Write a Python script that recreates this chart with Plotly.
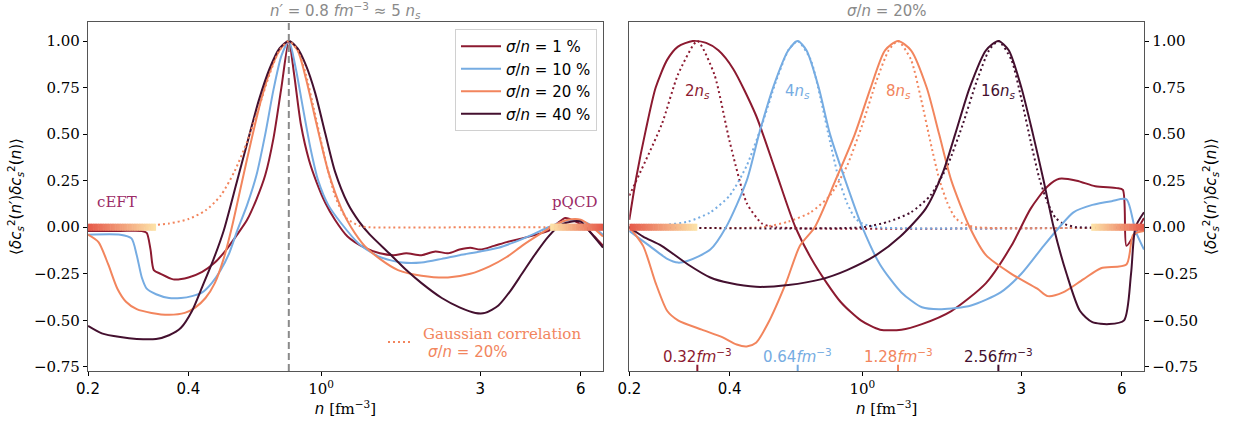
import numpy as np
import plotly.graph_objects as go

W, H = 1233, 421

# ---------------- data ----------------
labels = ["<i>σ</i>/<i>n</i> = 1 %", "<i>σ</i>/<i>n</i> = 10 %",
          "<i>σ</i>/<i>n</i> = 20 %", "<i>σ</i>/<i>n</i> = 40 %"]
colors = ["#8c1a30", "#76ace2", "#f2855d", "#44102f"]

# Left panel: n' = 0.8 fm^-3, several sigma/n
L1_x = [0.2, 0.25, 0.29, 0.30, 0.308, 0.315, 0.33, 0.36, 0.40, 0.44, 0.48, 0.52, 0.56, 0.60,
        0.64, 0.68, 0.72, 0.76, 0.80, 0.83, 0.87, 0.92, 0.97, 1.03, 1.1, 1.2, 1.35, 1.5, 1.65,
        1.8, 2.0, 2.2, 2.4, 2.6, 2.8, 3.0, 3.3, 3.6, 4.0, 4.4, 4.8, 5.1, 5.4, 5.8, 6.2, 6.6, 7.0]
L1_y = [-0.02, -0.02, -0.02, -0.03, -0.12, -0.23, -0.25, -0.28, -0.27, -0.24, -0.19, -0.12,
        -0.04, 0.04, 0.15, 0.28, 0.48, 0.75, 1.0, 0.82, 0.55, 0.36, 0.24, 0.13, 0.04, -0.05,
        -0.11, -0.14, -0.15, -0.14, -0.15, -0.13, -0.14, -0.12, -0.11, -0.12, -0.10, -0.08,
        -0.06, -0.04, -0.02, 0.02, 0.05, 0.03, 0.0, -0.05, -0.10]

L2_x = [0.2, 0.25, 0.27, 0.28, 0.29, 0.30, 0.32, 0.35, 0.38, 0.41, 0.44, 0.47, 0.50, 0.53,
        0.56, 0.60, 0.64, 0.68, 0.72, 0.76, 0.80, 0.84, 0.88, 0.93, 0.98, 1.05, 1.15, 1.3,
        1.5, 1.75, 2.0, 2.3, 2.6, 3.0, 3.4, 3.8, 4.3, 4.8, 5.3, 5.8, 6.3, 7.0]
L2_y = [-0.04, -0.04, -0.06, -0.15, -0.27, -0.33, -0.36, -0.38, -0.38, -0.37, -0.35, -0.30,
        -0.23, -0.14, -0.02, 0.12, 0.28, 0.50, 0.74, 0.92, 1.0, 0.85, 0.65, 0.42, 0.25, 0.12,
        0.02, -0.09, -0.16, -0.19, -0.19, -0.17, -0.15, -0.13, -0.11, -0.08, -0.04, 0.0,
        0.03, 0.04, 0.02, -0.04]

L3_x = [0.2, 0.215, 0.23, 0.245, 0.26, 0.28, 0.31, 0.35, 0.39, 0.42, 0.45, 0.48, 0.51, 0.54,
        0.58, 0.62, 0.66, 0.70, 0.75, 0.80, 0.85, 0.90, 0.97, 1.05, 1.15, 1.23, 1.35, 1.5,
        1.7, 2.0, 2.4, 2.8, 3.2, 3.6, 4.0, 4.5, 5.0, 5.5, 6.0, 6.5, 7.0]
L3_y = [-0.04, -0.08, -0.20, -0.33, -0.40, -0.44, -0.46, -0.47, -0.46, -0.43, -0.38, -0.30,
        -0.17, 0.0, 0.25, 0.48, 0.68, 0.83, 0.95, 1.0, 0.95, 0.80, 0.55, 0.30, 0.10, 0.0,
        -0.10, -0.17, -0.23, -0.26, -0.27, -0.25, -0.21, -0.16, -0.10, -0.04, 0.01, 0.04,
        0.04, 0.0, -0.05]

L4_x = [0.2, 0.22, 0.25, 0.28, 0.32, 0.35, 0.38, 0.41, 0.44, 0.475, 0.51, 0.56, 0.60, 0.65,
        0.70, 0.75, 0.80, 0.85, 0.90, 0.96, 1.03, 1.1, 1.2, 1.3, 1.4, 1.6, 1.8, 2.0, 2.3, 2.6,
        2.9, 3.1, 3.4, 3.7, 4.0, 4.4, 4.8, 5.2, 5.6, 6.0, 6.5, 7.0]
L4_y = [-0.53, -0.57, -0.59, -0.60, -0.60, -0.58, -0.54, -0.45, -0.32, -0.175, -0.02, 0.25,
        0.45, 0.68, 0.85, 0.96, 1.0, 0.96, 0.87, 0.72, 0.50, 0.30, 0.13, 0.03, -0.04, -0.14,
        -0.23, -0.30, -0.38, -0.43, -0.46, -0.46, -0.42, -0.34, -0.25, -0.14, -0.05, 0.01,
        0.03, 0.03, -0.04, -0.11]

# Gaussian correlation (sigma/n = 20 %), left panel
G_x = [0.2, 0.3, 0.35, 0.4, 0.45, 0.5, 0.55, 0.6, 0.65, 0.7, 0.75, 0.8, 0.85, 0.9, 0.95,
       1.0, 1.05, 1.1, 1.15, 1.2, 1.3, 1.4, 3.0, 7.0]
G_y = [0.0, 0.008, 0.02, 0.044, 0.09, 0.17, 0.30, 0.46, 0.64, 0.82, 0.95, 1.0, 0.95, 0.82,
       0.64, 0.46, 0.30, 0.17, 0.09, 0.044, 0.008, 0.0, 0.0, 0.0]

# Right panel: sigma/n = 20 %, several n'
n_prime = [0.32, 0.64, 1.28, 2.56]
ns_labels = ["2<i>n<sub>s</sub></i>", "4<i>n<sub>s</sub></i>",
             "8<i>n<sub>s</sub></i>", "16<i>n<sub>s</sub></i>"]
np_labels = ["0.32<i>fm</i><sup>−3</sup>", "0.64<i>fm</i><sup>−3</sup>",
             "1.28<i>fm</i><sup>−3</sup>", "2.56<i>fm</i><sup>−3</sup>"]
R_colors = ["#8c1a30", "#76ace2", "#f2855d", "#44102f"]

R1_x = [0.2, 0.21, 0.224, 0.24, 0.26, 0.28, 0.31, 0.34, 0.37, 0.41, 0.48, 0.55, 0.63, 0.72,
        0.86, 0.99, 1.13, 1.31, 1.51, 1.85, 2.35, 2.8, 3.2, 3.6, 3.9, 4.4, 5.0, 5.8, 6.05,
        6.2, 6.5, 7.0]
R1_y = [0.04, 0.27, 0.52, 0.75, 0.90, 0.97, 1.0, 0.99, 0.95, 0.85, 0.60, 0.30, 0.0, -0.20,
        -0.40, -0.50, -0.55, -0.55, -0.52, -0.45, -0.30, -0.10, 0.10, 0.22, 0.26, 0.25, 0.22,
        0.21, 0.20, -0.10, -0.05, 0.05]

R2_x = [0.2, 0.23, 0.26, 0.28, 0.30, 0.35, 0.39, 0.45, 0.49, 0.54, 0.60, 0.64, 0.68, 0.74,
        0.80, 0.89, 1.0, 1.13, 1.31, 1.51, 1.73, 2.12, 2.6, 3.0, 3.5, 3.9, 4.3, 4.9, 5.6,
        6.2, 6.6, 7.0]
R2_y = [-0.02, -0.10, -0.17, -0.19, -0.18, -0.12, 0.0, 0.25, 0.50, 0.75, 0.95, 1.0, 0.95,
        0.75, 0.50, 0.25, 0.0, -0.20, -0.35, -0.43, -0.44, -0.42, -0.35, -0.25, -0.10, 0.0,
        0.08, 0.12, 0.14, 0.15, -0.02, -0.12]

R3_x = [0.2, 0.22, 0.24, 0.26, 0.28, 0.33, 0.38, 0.42, 0.45, 0.48, 0.52, 0.59, 0.65, 0.72,
        0.83, 0.95, 1.06, 1.17, 1.28, 1.40, 1.56, 1.70, 1.85, 2.1, 2.35, 2.8, 3.35, 3.6, 4.0,
        4.6, 5.2, 6.2, 6.5, 7.0]
R3_y = [0.0, -0.10, -0.30, -0.45, -0.50, -0.55, -0.59, -0.63, -0.64, -0.62, -0.52, -0.30,
        -0.10, 0.0, 0.25, 0.50, 0.75, 0.95, 1.0, 0.95, 0.75, 0.50, 0.25, 0.0, -0.15, -0.25,
        -0.33, -0.37, -0.35, -0.28, -0.22, -0.20, -0.04, -0.02]

R4_x = [0.2, 0.22, 0.25, 0.30, 0.35, 0.40, 0.48, 0.60, 0.75, 0.90, 1.1, 1.3, 1.55, 1.75,
        1.9, 2.1, 2.35, 2.56, 2.75, 3.0, 3.25, 3.5, 3.75, 4.1, 4.5, 4.9, 5.5, 6.1, 6.4, 6.6,
        7.0]
R4_y = [0.0, -0.05, -0.10, -0.20, -0.27, -0.30, -0.32, -0.31, -0.28, -0.23, -0.15, -0.05,
        0.10, 0.30, 0.50, 0.75, 0.95, 1.0, 0.95, 0.75, 0.50, 0.25, 0.0, -0.25, -0.45, -0.51,
        -0.52, -0.50, -0.25, 0.0, 0.08]

# Gaussian references (right panel)
D1_x = [0.2, 0.25, 0.28, 0.32, 0.36, 0.40, 0.45, 0.50, 0.55, 7.0]
D1_y = [0.17, 0.55, 0.82, 1.0, 0.82, 0.46, 0.13, 0.02, 0.0, 0.0]
D2_x = [0.2, 0.25, 0.30, 0.35, 0.40, 0.45, 0.50, 0.55, 0.60, 0.64, 0.70, 0.75, 0.80, 0.85,
        0.90, 0.95, 1.0, 1.1, 7.0]
D2_y = [0.0, 0.01, 0.03, 0.08, 0.17, 0.33, 0.55, 0.78, 0.95, 1.0, 0.90, 0.69, 0.46, 0.26,
        0.13, 0.05, 0.02, 0.0, 0.0]
D3_x = [0.2, 0.5, 0.6, 0.7, 0.8, 0.9, 1.0, 1.1, 1.2, 1.28, 1.4, 1.5, 1.6, 1.7, 1.8, 1.9,
        2.0, 2.2, 7.0]
D3_y = [0.0, 0.0, 0.03, 0.08, 0.17, 0.33, 0.55, 0.78, 0.95, 1.0, 0.90, 0.69, 0.46, 0.26,
        0.13, 0.05, 0.02, 0.0, 0.0]
D4_x = [0.2, 1.0, 1.2, 1.4, 1.6, 1.8, 2.0, 2.2, 2.4, 2.56, 2.8, 3.0, 3.2, 3.4, 3.6, 3.8,
        4.0, 4.4, 7.0]
D4_y = [0.0, 0.0, 0.03, 0.08, 0.17, 0.33, 0.55, 0.78, 0.95, 1.0, 0.90, 0.69, 0.46, 0.26,
        0.13, 0.05, 0.02, 0.0, 0.0]

n_ref = 0.8            # fm^-3, left panel reference density
cEFT_range = [0.2, 0.32]
pQCD_range = [4.86, 7.0]
x_range = [0.2, 7.0]
y_range = [-0.772, 1.102]
yticks = [-0.75, -0.5, -0.25, 0.0, 0.25, 0.5, 0.75, 1.0]
xticks = [0.2, 0.4, 1, 3, 6]
xticktext = ["0.2", "0.4", "<span style='font-family:DejaVu Serif'>10<sup>0</sup></span>",
             "3", "6"]

# ---------------- layout geometry ----------------
dom_x1 = [88 / W, 603 / W]
dom_x2 = [629.3 / W, 1144 / W]
dom_y = [1 - 371 / H, 1 - 22 / H]

fig = go.Figure()

LW = 2.0
left_sets = [(L1_x, L1_y), (L2_x, L2_y), (L3_x, L3_y), (L4_x, L4_y)]
for (xs, ys), c, lab in zip(left_sets, colors, labels):
    fig.add_trace(go.Scatter(x=xs, y=ys, mode="lines", name=lab,
                             line=dict(color=c, width=LW, shape="spline", smoothing=0.7),
                             xaxis="x", yaxis="y", showlegend=True))
fig.add_trace(go.Scatter(x=G_x, y=G_y, mode="lines", showlegend=False,
                         line=dict(color=colors[2], width=LW, dash="2px,3px",
                                   shape="spline", smoothing=0.7),
                         xaxis="x", yaxis="y"))

dotted_sets = [(D1_x, D1_y), (D2_x, D2_y), (D3_x, D3_y), (D4_x, D4_y)]
solid_sets = [(R1_x, R1_y), (R2_x, R2_y), (R3_x, R3_y), (R4_x, R4_y)]
for (xs, ys), c in zip(dotted_sets, R_colors):
    fig.add_trace(go.Scatter(x=xs, y=ys, mode="lines", showlegend=False,
                             line=dict(color=c, width=LW, dash="2px,3px",
                                       shape="spline", smoothing=0.6),
                             xaxis="x2", yaxis="y2"))
for (xs, ys), c in zip(solid_sets, R_colors):
    fig.add_trace(go.Scatter(x=xs, y=ys, mode="lines", showlegend=False,
                             line=dict(color=c, width=LW, shape="spline", smoothing=0.7),
                             xaxis="x2", yaxis="y2"))

# ---------------- shapes ----------------
shapes = []
shapes.append(dict(type="line", xref="x", yref="y domain", x0=n_ref, x1=n_ref, y0=0, y1=1,
                   line=dict(color="#8a8a8a", width=2, dash="7px,4px"), layer="above"))


def hex2rgb(h):
    h = h.lstrip("#")
    return [int(h[i:i + 2], 16) for i in (0, 2, 4)]


def gradient_bar(xref, yref, x0, x1, c0, c1, n=40, half=0.019):
    a, b = np.array(hex2rgb(c0)), np.array(hex2rgb(c1))
    edges = np.geomspace(x0, x1, n + 1)
    for i in range(n):
        t = i / (n - 1)
        r, g, bb = (a + (b - a) * t).round().astype(int)
        shapes.append(dict(type="rect", xref=xref, yref=yref, x0=edges[i],
                           x1=edges[i + 1] * 1.004 if i < n - 1 else edges[i + 1],
                           y0=-half, y1=half, fillcolor=f"rgb({r},{g},{bb})",
                           line=dict(width=0), layer="above"))


RED, PALE = "#e65a4a", "#fde3a8"
for xr, yr in (("x", "y"), ("x2", "y2")):
    gradient_bar(xr, yr, cEFT_range[0], cEFT_range[1], RED, PALE)
    gradient_bar(xr, yr, pQCD_range[0], pQCD_range[1], PALE, RED)

for v, c in zip(n_prime, R_colors):
    shapes.append(dict(type="line", xref="x2", yref="y2 domain", x0=v, x1=v, y0=0, y1=0.018,
                       line=dict(color=c, width=2), layer="above"))

# dotted sample of the "Gaussian correlation" legend
shapes.append(dict(type="line", xref="paper", yref="paper", x0=388 / W, x1=412 / W,
                   y0=1 - 342 / H, y1=1 - 342 / H,
                   line=dict(color=colors[2], width=2, dash="2px,3px")))

# ---------------- annotations ----------------
ann = []
GREY = "#8a8a8a"
ann.append(dict(xref="paper", yref="paper", x=(dom_x1[0] + dom_x1[1]) / 2, y=1 - 11 / H,
                yanchor="middle", xanchor="center",
                text="<i>n′</i> = 0.8 <i>fm</i><sup>−3</sup> ≈ 5 <i>n<sub>s</sub></i>",
                showarrow=False, font=dict(family="DejaVu Sans", size=15, color=GREY)))
ann.append(dict(xref="paper", yref="paper", x=(dom_x2[0] + dom_x2[1]) / 2, y=1 - 11 / H,
                yanchor="middle", xanchor="center",
                text="<i>σ</i>/<i>n</i> = 20%",
                showarrow=False, font=dict(family="DejaVu Sans", size=15, color=GREY)))
TXT = "#9c2b66"
ann.append(dict(xref="x", yref="y", x=np.log10(0.2), y=0.135, xanchor="left", xshift=7,
                yanchor="middle", text="cEFT", showarrow=False,
                font=dict(family="DejaVu Serif", size=15, color=TXT)))
ann.append(dict(xref="x", yref="y", x=np.log10(7.0), y=0.135, xanchor="right", xshift=-4,
                yanchor="middle", text="pQCD", showarrow=False,
                font=dict(family="DejaVu Serif", size=15, color=TXT)))
ann.append(dict(xref="paper", yref="paper", x=421 / W, y=1 - 334 / H, xanchor="left",
                yanchor="middle", text="Gaussian correlation", showarrow=False,
                font=dict(family="DejaVu Serif", size=15, color=colors[2])))
ann.append(dict(xref="paper", yref="paper", x=426 / W, y=1 - 352 / H, xanchor="left",
                yanchor="middle", text="<i>σ</i>/<i>n</i> = 20%", showarrow=False,
                font=dict(family="DejaVu Sans", size=15, color=colors[2])))
for v, c, t1, t2 in zip(n_prime, R_colors, ns_labels, np_labels):
    ann.append(dict(xref="x2", yref="y2", x=np.log10(v), y=0.73, text=t1, showarrow=False,
                    yanchor="middle", font=dict(family="DejaVu Sans", size=15, color=c)))
    ann.append(dict(xref="x2", yref="y2", x=np.log10(v), y=-0.69, text=t2, showarrow=False,
                    yanchor="middle", font=dict(family="DejaVu Sans", size=15, color=c)))

ylab = ("⟨<i>δc</i><sub><i>s</i></sub><sup>2</sup>(<i>n′</i>)"
        "<i>δc</i><sub><i>s</i></sub><sup>2</sup>(<i>n</i>)⟩")
xlab = "<i>n</i> <span style='font-family:DejaVu Serif'>[fm<sup>−3</sup>]</span>"

axis_common = dict(showline=True, linecolor="#555555", linewidth=1.3, mirror=True,
                   showgrid=False, zeroline=False, ticks="outside", ticklen=4,
                   tickcolor="#000000", tickwidth=1.2, automargin=False)
xcommon = dict(axis_common, type="log", range=[np.log10(x_range[0]), np.log10(x_range[1])],
               tickvals=xticks, ticktext=xticktext,
               tickfont=dict(family="DejaVu Sans", size=15, color="#000"),
               title=dict(text=xlab, font=dict(family="DejaVu Sans", size=15, color="#000"),
                          standoff=6))
ycommon = dict(axis_common, range=y_range, tickvals=yticks, tickformat=".2f",
               tickfont=dict(family="DejaVu Serif", size=15, color="#000"),
               title=dict(text=ylab, font=dict(family="DejaVu Sans", size=15, color="#000"),
                          standoff=8))

fig.update_layout(
    width=W, height=H, margin=dict(l=0, r=0, t=0, b=0, autoexpand=False),
    paper_bgcolor="white", plot_bgcolor="white",
    xaxis=dict(xcommon, domain=dom_x1, anchor="y"),
    yaxis=dict(ycommon, domain=dom_y, anchor="x"),
    xaxis2=dict(xcommon, domain=dom_x2, anchor="y2"),
    yaxis2=dict(ycommon, domain=dom_y, anchor="x2", side="right"),
    shapes=shapes, annotations=ann,
    legend=dict(x=597 / W, y=1 - 29 / H, xanchor="right", yanchor="top",
                bgcolor="rgba(255,255,255,0.85)", bordercolor="#d0d0d0", borderwidth=1,
                font=dict(family="DejaVu Sans", size=15, color="#000"),
                itemwidth=40, tracegroupgap=0),
    showlegend=True,
)

fig.write_html("out.html")
